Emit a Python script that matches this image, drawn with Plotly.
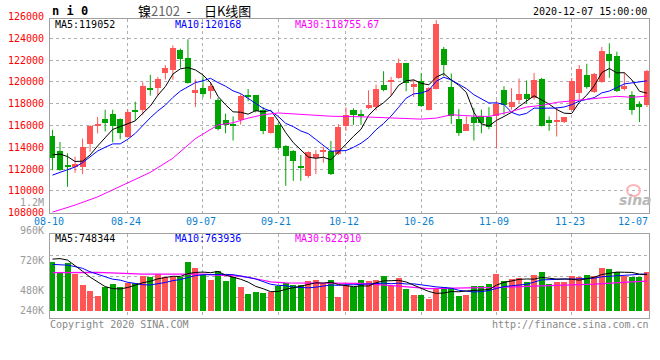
import plotly.graph_objects as go

# ---------------- data ----------------
dates = ["08-10","08-11","08-12","08-13","08-14","08-17","08-18","08-19","08-20","08-21",
         "08-24","08-25","08-26","08-27","08-28","08-31","09-01","09-02","09-03","09-04",
         "09-07","09-08","09-09","09-10","09-11","09-14","09-15","09-16","09-17","09-18",
         "09-21","09-22","09-23","09-24","09-25","09-28","09-29","09-30","10-09",
         "10-12","10-13","10-14","10-15","10-16","10-19","10-20","10-21","10-22","10-23",
         "10-26","10-27","10-28","10-29","10-30","11-02","11-03","11-04","11-05","11-06",
         "11-09","11-10","11-11","11-12","11-13","11-16","11-17","11-18","11-19","11-20",
         "11-23","11-24","11-25","11-26","11-27","11-30","12-01","12-02","12-03","12-04","12-07"]

opens = [115050,113660,112370,112210,112210,114280,115970,116620,117080,116590,
         114950,117450,117450,119480,119420,120860,121110,122890,122150,118990,
         119450,119170,118310,116460,116150,116460,118770,118800,117450,115320,
         116060,114120,113660,112310,111380,113050,113600,113630,113380,
         116000,117380,116990,117600,117720,119690,120030,120370,121750,119540,
         120090,117450,119380,122980,119570,116620,115540,116800,116890,116740,
         116830,119290,117690,118310,118920,118490,120310,116460,116340,116280,
         117450,118990,120590,119080,119970,122520,122370,119320,118830,117940,117850]
highs = [115600,114490,113450,113140,114800,116030,116770,117450,117450,116650,
         117510,118190,119970,120650,120460,121540,123350,123050,123910,120220,
         120520,120000,118550,117080,116830,118860,119350,118800,117690,116800,
         116220,114190,113750,113290,113630,113750,114050,114580,116120,
         117660,117570,117450,119230,119750,120980,120460,122150,121750,120220,
         120800,119510,125660,123200,120770,117510,116830,117600,117450,117690,
         118280,119600,119420,120310,120120,120830,120370,116830,117690,116770,
         120370,121540,121660,120830,123200,123540,122770,120830,119140,118220,121110]
lows = [111900,111850,110370,111660,111540,113600,115290,115450,114460,114740,
        114890,116430,116990,118740,118740,120220,120190,121290,119850,117690,
        118590,118460,115540,115290,114620,116090,118220,117200,115200,115260,
        113750,110460,110920,110920,111200,111540,112590,111450,113290,
        115510,116060,116060,117510,117380,119140,118740,120280,119140,118620,
        117700,117380,119320,120520,116150,115050,115510,114620,115290,115660,
        113890,116990,117450,118060,117970,118370,115910,115510,114990,116220,
        117380,118370,119380,118990,119910,120370,119080,119200,116990,116310,117690]
closes = [113050,111940,112150,112460,114030,115910,116060,116190,116000,115350,
          117260,117320,119660,119320,120310,121230,123080,122060,119880,119230,
          118920,119600,115720,116030,116000,118740,118700,117350,115450,116740,
          113970,113200,112770,112060,113540,113380,113690,111570,115850,
          116950,116980,116920,117850,119380,119290,120180,121750,119910,119780,
          117750,119450,125290,121540,116830,115350,116150,116190,116250,115820,
          117940,117910,118120,118920,118460,120220,116000,116190,116460,116770,
          120060,121140,119510,120740,122830,121910,119140,119600,117380,117690,121020]

# volume, thousand lots
volume = [713,617,698,594,488,433,385,472,498,472,
          503,510,575,568,590,568,568,568,704,646,
          585,539,626,527,563,472,401,421,414,421,
          479,510,491,491,527,537,495,537,375,
          488,472,537,527,537,575,481,553,450,392,
          392,353,462,466,462,382,392,479,479,498,
          594,527,546,556,517,585,614,498,520,520,
          578,565,585,575,652,643,617,575,568,568,617]

# moving-average values read at the start of the window (earlier data not shown)
ma5_head = [113300, 113380, 113150, 112700]
ma10_head = [111450, 111690, 111910, 112190, 112590, 113140, 113660, 114000, 114310]
vma5_head = [739, 744, 730, 672]
vma10_head = [688, 688, 681, 667, 650, 617, 594, 565, 546]

# MA30 lines
ma30_dates = ["08-10","08-13","08-18","08-24","08-27","09-01","09-04","09-09","09-11",
              "09-15","09-17","09-21","09-25","09-30","10-14","10-19","10-26","10-28",
              "10-30","11-04","11-06","11-09","11-11","11-13","11-17","11-19","11-23",
              "11-25","11-27","12-01","12-03","12-07"]
ma30_vals = [108050,108700,109450,110750,111700,113000,114800,116050,116250,
             116680,116985,117150,116990,116850,116800,116700,116585,116677,
             116985,116860,116831,116985,117292,117692,117846,118123,118250,
             118369,118523,118677,118585,118700]
vma30_dates = ["08-10","08-18","08-26","09-07","09-09","09-14","09-17","09-18","09-22",
               "09-30","10-14","10-21","10-27","11-03","11-09","11-16","11-20","11-26",
               "12-03","12-07"]
vma30_vals = [609,611,594,594,585,575,536,520,510,505,505,479,456,462,466,479,488,498,520,527]

grid_dates = ["08-24","09-07","09-21","10-12","10-26","11-09","11-23"]
x_labels = ["08-10","08-24","09-07","09-21","10-12","10-26","11-09","11-23","12-07"]
price_ticks = [108000,110000,112000,114000,116000,118000,120000,122000,124000,126000]
vol_tick_text = ["960K","720K","480K","240K"]

legend_main = ["MA5:119052", "MA10:120168", "MA30:118755.67"]
legend_vol = ["MA5:748344", "MA10:763936", "MA30:622910"]

# ---------------- helpers ----------------
def moving(vals, n, head):
    out = list(head)
    for i in range(len(head), len(vals)):
        out.append(sum(vals[i - n + 1:i + 1]) / n)
    return out

ma5 = moving(closes, 5, ma5_head)
ma10 = moving(closes, 10, ma10_head)
vma5 = moving(volume, 5, vma5_head)
vma10 = moving(volume, 10, vma10_head)

RED = "#ff5555"
GREEN = "#00a400"
up = [c >= o for o, c in zip(opens, closes)]
colors = [RED if u else GREEN for u in up]

W, H = 660, 360
PL, PR, PT, PB = 50, 649, 19, 318        # plot area in window pixels
def px(x):
    return (x - PL) / (PR - PL)
def py(y):
    return (PB - y) / (PB - PT)

fig = go.Figure()

# candle bodies
body_base = [min(o, c) for o, c in zip(opens, closes)]
body_h = [max(abs(c - o), 90) for o, c in zip(opens, closes)]

# wicks
for col, flag in ((RED, True), (GREEN, False)):
    wx, wy = [], []
    for d, h, l, u in zip(dates, highs, lows, up):
        if u == flag:
            wx += [d, d, None]
            wy += [l, h, None]
    fig.add_trace(go.Scatter(x=wx, y=wy, mode="lines", line=dict(color=col, width=1),
                             hoverinfo="skip", xaxis="x", yaxis="y"))

fig.add_trace(go.Bar(x=dates, y=body_h, base=body_base, width=0.8,
                     marker=dict(color=colors, line=dict(width=0)),
                     xaxis="x", yaxis="y"))

for y, col in ((ma5, "black"), (ma10, "#0000ff")):
    fig.add_trace(go.Scatter(x=dates, y=y, mode="lines", line=dict(color=col, width=1),
                             xaxis="x", yaxis="y"))
fig.add_trace(go.Scatter(x=ma30_dates, y=ma30_vals, mode="lines",
                         line=dict(color="#ff00ff", width=1), xaxis="x", yaxis="y"))

# volume
VBASE = 240
fig.add_trace(go.Bar(x=dates, y=[v - VBASE for v in volume], base=VBASE, width=0.8,
                     marker=dict(color=colors, line=dict(width=0)),
                     xaxis="x2", yaxis="y2"))
fig.add_trace(go.Scatter(x=vma30_dates, y=vma30_vals, mode="lines",
                         line=dict(color="#ff00ff", width=1.2), xaxis="x2", yaxis="y2"))
for y, col in ((vma10, "#0000ff"), (vma5, "black")):
    fig.add_trace(go.Scatter(x=dates, y=y, mode="lines", line=dict(color=col, width=1),
                             xaxis="x2", yaxis="y2"))

# ---------------- layout ----------------
GRID = "#b0b0b0"
BORDER = "#a0a0a0"
xr = [-0.33, 79.27]
main_dom = [py(212.7), 1]
vol_dom = [0, py(234.3)]
vlo, vhi = 172.4, 977.9

common_x = dict(type="category", categoryorder="array", categoryarray=dates,
                range=xr, tickvals=grid_dates, showticklabels=False,
                ticks="", showgrid=True, gridcolor=GRID, griddash="dot", gridwidth=1,
                showline=True, mirror=True, linecolor=BORDER, linewidth=1,
                zeroline=False, fixedrange=True, automargin=False)

fig.update_layout(
    width=W, height=H,
    margin=dict(l=PL, r=W - PR, t=PT, b=H - PB, autoexpand=False),
    paper_bgcolor="white", plot_bgcolor="white",
    showlegend=False, barmode="overlay", bargap=0,
    xaxis=dict(common_x, anchor="y", domain=[0, 1]),
    xaxis2=dict(common_x, anchor="y2", domain=[0, 1], matches="x"),
    yaxis=dict(domain=main_dom, range=[108000, 125770], tickvals=price_ticks[1:-1],
               showticklabels=False, ticks="", showgrid=True, gridcolor=GRID,
               griddash="dot", showline=True, mirror=True, linecolor=BORDER,
               linewidth=1, zeroline=False, fixedrange=True, automargin=False),
    yaxis2=dict(domain=vol_dom, range=[vlo, vhi],
                tickvals=[vlo + k * (vhi - vlo) / 4 for k in (1, 2, 3)],
                showticklabels=False, ticks="", showgrid=True, gridcolor=GRID,
                griddash="dot", showline=True, mirror=True, linecolor=BORDER,
                linewidth=1, zeroline=False, fixedrange=True, automargin=False),
)

MONO = "DejaVu Sans Mono"
ann = []
def txt(text, x, y, color, xanchor="left", size=10, family=MONO, **kw):
    ann.append(dict(text=text, xref="paper", yref="paper", x=px(x), y=py(y),
                    xanchor=xanchor, yanchor="middle", showarrow=False,
                    font=dict(family=family, size=size, color=color), **kw))

# price labels
for v in price_ticks:
    ypix = 212.7 - (v - 108000) * 0.0109
    txt(str(v), 46, ypix, "#ff0000", xanchor="right")
txt("1.2M", 46, 202, "#9a9a9a", xanchor="right")
# volume labels
for t, ypix in zip(vol_tick_text, [230.5, 260.5, 290, 310]):
    txt(t, 46, ypix, "#9a9a9a", xanchor="right")

# x labels
for i, d in enumerate(x_labels):
    idx = dates.index(d)
    xpix = 52.5 + idx * 7.525 - 2
    if i == 0:
        txt(d, 49, 221.5, "#0a7fd0", xanchor="center")
    elif i == len(x_labels) - 1:
        txt(d, 650, 221.5, "#0a7fd0", xanchor="right")
    else:
        txt(d, xpix, 221.5, "#0a7fd0", xanchor="center")

# legends
for t, x, c in zip(legend_main, [53, 173, 293], ["black", "#0000ff", "#ff00ff"]):
    txt(t, x, 24.5, c)
for t, x, c in zip(legend_vol, [53, 173, 293], ["black", "#0000ff", "#ff00ff"]):
    txt(t, x, 238.5, c)

# titles
txt("<b>n i 0</b>", 50, 11, "black", size=12)
txt("镍<span style='color:#666666'>2102\u2002</span>-\u2002\u2002日K线图", 194, 10.5, "black",
    xanchor="center", size=13, family="Noto Sans CJK SC")
txt("2020-12-07 15:00:00", 649, 11, "black", xanchor="right")

# footer
txt("Copyright 2020 SINA.COM", 48, 324, "#888888")
txt("http://finance.sina.com.cn", 651, 324, "#888888", xanchor="right")

# sina watermark
txt("<i><b>sina</b></i>", 654, 200, "#b8b8b8", xanchor="right", size=14,
    family="DejaVu Sans")
fig.add_shape(type="circle", xref="paper", yref="paper",
              x0=px(627), x1=px(640), y0=py(196), y1=py(185),
              line=dict(color="#ffb4b4", width=2))

fig.update_layout(annotations=ann)
fig.write_html("out.html", config={"displayModeBar": False},
               post_script="document.body.style.margin='0';document.body.style.padding='0';")
